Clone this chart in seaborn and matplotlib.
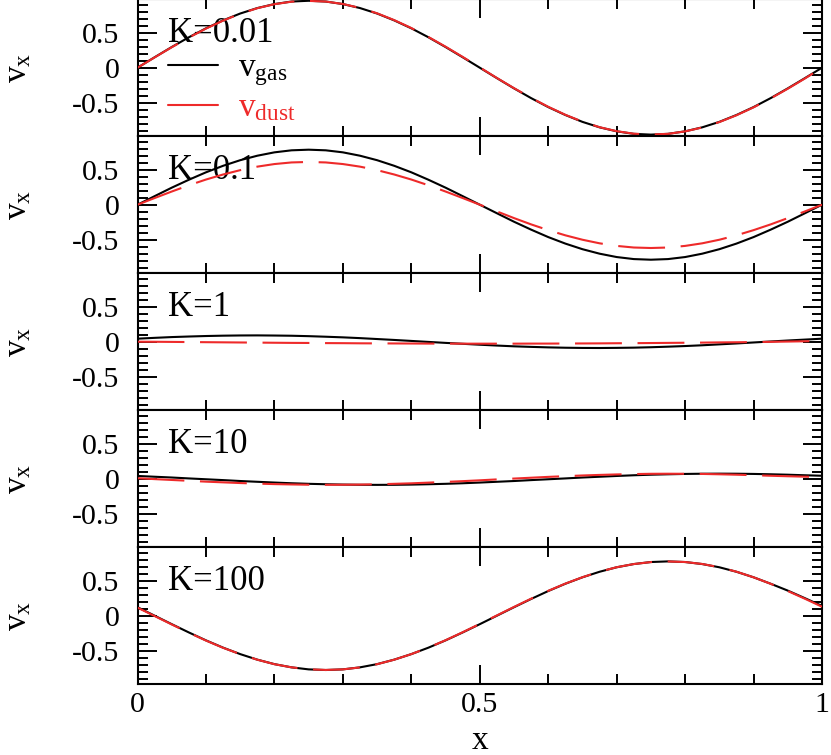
import matplotlib
matplotlib.use("Agg")
import matplotlib.pyplot as plt
import matplotlib.transforms as mtransforms
from matplotlib.ticker import MultipleLocator, FuncFormatter
import seaborn as sns

# ---------------- data ----------------
x = [0.000, 0.025, 0.050, 0.075, 0.100, 0.125, 0.150, 0.175, 0.200, 0.225,
     0.250, 0.275, 0.300, 0.325, 0.350, 0.375, 0.400, 0.425, 0.450, 0.475,
     0.500, 0.525, 0.550, 0.575, 0.600, 0.625, 0.650, 0.675, 0.700, 0.725,
     0.750, 0.775, 0.800, 0.825, 0.850, 0.875, 0.900, 0.925, 0.950, 0.975, 1.000]

k_labels = ["K=0.01", "K=0.1", "K=1", "K=10", "K=100"]

gas_k001 = [0, .149, .295, .434, .562, .675, .773, .851, .908, .944, .955, .944, .908, .851,
            .773, .675, .562, .434, .295, .149, 0, -.149, -.295, -.434, -.562, -.675, -.773,
            -.851, -.908, -.944, -.955, -.944, -.908, -.851, -.773, -.675, -.562, -.434,
            -.295, -.149, 0]
dust_k001 = [0, .147, .292, .430, .558, .672, .770, .849, .906, .942, .953, .944, .909, .853,
             .776, .679, .566, .438, .300, .154, .004, -.147, -.292, -.430, -.558, -.672,
             -.770, -.849, -.906, -.942, -.953, -.944, -.909, -.853, -.776, -.679, -.566,
             -.438, -.300, -.154, 0]

gas_k01 = [0, .122, .243, .356, .462, .555, .635, .699, .747, .776, .785, .776, .747, .699,
           .635, .555, .462, .356, .243, .122, 0, -.122, -.243, -.356, -.462, -.555, -.635,
           -.699, -.747, -.776, -.785, -.776, -.747, -.699, -.635, -.555, -.462, -.356,
           -.243, -.122, 0]
dust_k01 = [0, .095, .188, .277, .359, .431, .493, .543, .580, .603, .610, .603, .580, .543,
            .493, .431, .359, .277, .188, .095, 0, -.096, -.191, -.281, -.363, -.437, -.500,
            -.551, -.588, -.611, -.618, -.611, -.588, -.551, -.500, -.437, -.363, -.281,
            -.191, -.096, 0]

gas_k1 = [.043, .055, .066, .074, .081, .086, .089, .090, .088, .085, .079, .071, .062, .051,
          .038, .025, .011, -.003, -.017, -.030, -.043, -.055, -.066, -.074, -.081, -.086,
          -.089, -.090, -.088, -.085, -.079, -.071, -.062, -.051, -.038, -.025, -.011, .003,
          .017, .030, .043]
dust_k1 = [0, -.001, -.003, -.005, -.007, -.009, -.011, -.013, -.015, -.017, -.018, -.020,
           -.021, -.023, -.024, -.025, -.026, -.027, -.027, -.028, -.028, -.028, -.028, -.027,
           -.027, -.026, -.025, -.024, -.022, -.021, -.019, -.017, -.015, -.013, -.010,
           -.008, -.005, -.002, .002, .006, .010]

gas_k10 = [.039, .028, .017, .004, -.008, -.020, -.033, -.044, -.055, -.065, -.073, -.079,
           -.084, -.087, -.088, -.087, -.084, -.079, -.073, -.065, -.055, -.044, -.033, -.020,
           -.008, .004, .017, .028, .039, .049, .057, .063, .068, .071, .072, .071, .068,
           .063, .057, .049, .042]
dust_k10 = [.007, -.006, -.018, -.030, -.042, -.052, -.062, -.070, -.077, -.082, -.086, -.087,
            -.086, -.084, -.080, -.073, -.066, -.056, -.046, -.035, -.023, -.010, .002, .014,
            .026, .036, .046, .054, .061, .066, .070, .071, .070, .068, .063, .057, .050,
            .042, .035, .029, .024]

gas_k100 = [.121, 0, -.121, -.239, -.352, -.456, -.548, -.627, -.691, -.737, -.766, -.775,
            -.766, -.737, -.691, -.627, -.548, -.456, -.352, -.239, -.121, 0, .121, .239,
            .352, .456, .548, .627, .691, .737, .766, .775, .766, .737, .691, .627, .548,
            .456, .358, .250, .140]
dust_k100 = [.115, -.005, -.125, -.242, -.355, -.458, -.549, -.628, -.692, -.737, -.765,
             -.774, -.766, -.738, -.692, -.628, -.548, -.455, -.350, -.236, -.117, .004, .125,
             .243, .355, .458, .549, .628, .692, .737, .765, .774, .766, .738, .692, .628,
             .548, .455, .352, .242, .128]

gas_series = [gas_k001, gas_k01, gas_k1, gas_k10, gas_k100]
dust_series = [dust_k001, dust_k01, dust_k1, dust_k10, dust_k100]

x_ticks = [0, 0.5, 1]
y_ticks = [-0.5, 0, 0.5]

# ---------------- style ----------------
sns.set_style("ticks")
plt.rcParams["font.family"] = ["Liberation Serif", "DejaVu Serif"]
plt.rcParams["mathtext.fontset"] = "custom"
plt.rcParams["mathtext.rm"] = "Liberation Serif"
plt.rcParams["mathtext.it"] = "Liberation Serif:italic"
plt.rcParams["axes.unicode_minus"] = False
for key in ["text.color", "axes.labelcolor", "xtick.color", "ytick.color",
            "axes.edgecolor"]:
    plt.rcParams[key] = "black"

RED = "#ee2a2a"
DASH = (0, (22.5, 7.5))

fig, axes = plt.subplots(5, 1, sharex=True, figsize=(8.31, 7.55), dpi=100)
fig.subplots_adjust(left=0.1655, right=0.9892, top=1.0013, bottom=0.094, hspace=0)

fmt = FuncFormatter(lambda v, p: f"{v:g}")

for i, ax in enumerate(axes):
    sns.lineplot(x=x, y=gas_series[i], ax=ax, color="black", lw=1.5,
                 label=r"v$_{\rm gas}$" if i == 0 else None, legend=False, zorder=2)
    sns.lineplot(x=x, y=dust_series[i], ax=ax, color=RED, lw=1.5, linestyle=DASH,
                 label=r"v$_{\rm dust}$" if i == 0 else None, legend=False, zorder=3)
    ax.set_xlim(0, 1)
    ax.set_ylim(-0.975, 0.98)
    ax.xaxis.set_major_locator(MultipleLocator(0.5))
    ax.xaxis.set_minor_locator(MultipleLocator(0.1))
    ax.set_yticks(y_ticks)
    ax.yaxis.set_minor_locator(MultipleLocator(0.1))
    ax.xaxis.set_major_formatter(fmt)
    ax.yaxis.set_major_formatter(fmt)
    ax.tick_params(which="both", direction="in", top=True, right=True,
                   width=1.4, labelsize=21.5, colors="black")
    ax.tick_params(which="major", length=14)
    ax.tick_params(which="minor", length=7)
    ax.tick_params(axis="y", which="major", pad=13)
    ax.tick_params(axis="x", which="major", pad=6)
    for sp in ax.spines.values():
        sp.set_linewidth(1.5)
        sp.set_color("black")
    ax.set_ylabel(r"v$_{\rm x}$", fontsize=24)
    ax.yaxis.set_label_coords(-0.153, 0.5)
    trans = mtransforms.blended_transform_factory(ax.transAxes, ax.transData)
    ax.text(0.045, 0.37, k_labels[i], transform=trans, fontsize=25,
            va="baseline", ha="left", zorder=1)
    ax.set_xlabel("")

axes[-1].set_xticks(x_ticks)
axes[-1].set_xlabel("x", fontsize=24, labelpad=5)

leg = axes[0].legend(loc="center left", bbox_to_anchor=(0.045, 0.35), frameon=False,
                     fontsize=24, handlelength=1.5, handletextpad=0.6, labelspacing=0.15,
                     borderpad=0, borderaxespad=0, labelcolor="linecolor")
for h in leg.legend_handles:
    h.set_linestyle("-")

fig.savefig("out.png", dpi=100)
